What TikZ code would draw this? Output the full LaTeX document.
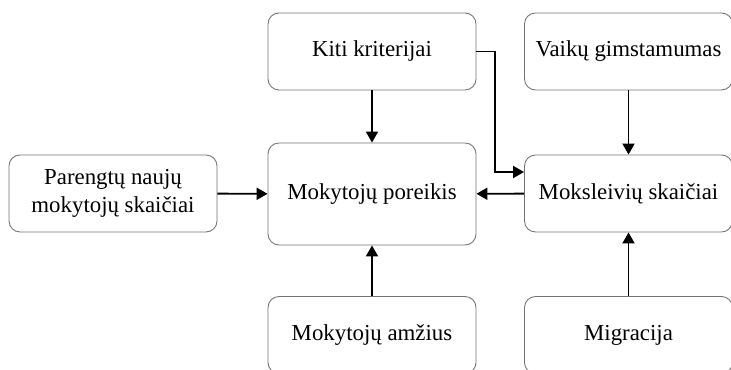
\documentclass[tikz,border=0pt]{standalone}
\usepackage{fontspec}
\setmainfont{Liberation Serif}
\usetikzlibrary{arrows.meta}
\tikzset{box/.style={draw=black!55,line width=0.5pt,rounded corners=0.22cm,
  minimum width=4.16cm,minimum height=1.54cm,align=center,
  font=\fontsize{13}{15.5}\selectfont},
  arr/.style={line width=1.1pt,-{Triangle[length=0.22cm,width=0.24cm]}}}
\begin{document}
\begin{tikzpicture}
\useasboundingbox(0,0)rectangle(14.62,7.4);
\clip(0,0)rectangle(14.62,7.4);
\node[box](kiti)at(7.44,6.37){Kiti kriterijai};
\node[box](vaikai)at(12.57,6.37){Vaikų gimstamumas};
\node[box](parengti)at(2.26,3.53){Parengtų naujų\\mokytojų skaičiai};
\node[box,minimum height=2.04cm](poreikis)at(7.44,3.52){Mokytojų poreikis};
\node[box](moksleiviai)at(12.57,3.53){Moksleivių skaičiai};
\node[box](amzius)at(7.44,0.70){Mokytojų amžius};
\node[box](migracija)at(12.57,0.70){Migracija};
\draw[arr](kiti)--(poreikis);
\draw[arr](kiti.east)--++(0.38,0)|-([yshift=0.43cm]moksleiviai.west);
\draw[arr](vaikai)--(moksleiviai);
\draw[arr](parengti)--(poreikis);
\draw[arr](moksleiviai)--(poreikis);
\draw[arr](amzius)--(poreikis);
\draw[arr](migracija)--(moksleiviai);
\end{tikzpicture}
\end{document}
